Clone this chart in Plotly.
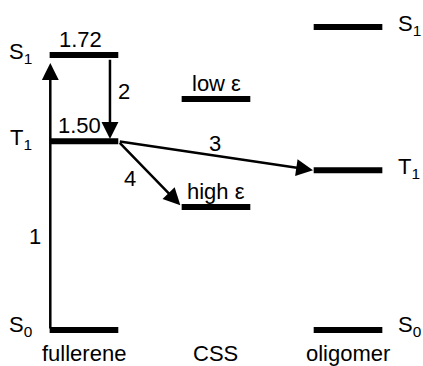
import plotly.graph_objects as go

# ---- data (diagram energy units) ----
categories = ["fullerene", "CSS", "oligomer"]
cat_pos = [0, 1, 2]
fullerene_levels = {"S0": 0.0, "T1": 1.18, "S1": 1.72}
css_levels = {"high ε": 0.77, "low ε": 1.445}
oligomer_levels = {"S0": 0.0, "T1": 1.0, "S1": 1.895}
energy_labels = {"S1": "1.72", "T1": "1.50"}
arrow_labels = ["1", "2", "3", "4"]

HW = 0.26  # half width of level bars
W, H = 423, 366
XR = [-0.636, 2.568]
YR = [-0.225, 2.064]

def px(x):
    return XR[0] + x / W * (XR[1] - XR[0])

def py(y):
    return YR[1] - y / H * (YR[1] - YR[0])

fig = go.Figure()

def add_level(c, e):
    fig.add_trace(go.Scatter(x=[c - HW, c + HW], y=[e, e], mode="lines",
                             line=dict(color="black", width=6), showlegend=False,
                             hoverinfo="skip"))

for e in fullerene_levels.values():
    add_level(cat_pos[0], e)
for e in css_levels.values():
    add_level(cat_pos[1], e)
for e in oligomer_levels.values():
    add_level(cat_pos[2], e)

FONT = dict(family="Liberation Sans, Arial, sans-serif", size=22, color="black")
ann = []

def arrow(x0, y0, x1, y1):
    ann.append(dict(x=x1, y=y1, ax=x0, ay=y0, xref="x", yref="y", axref="x", ayref="y",
                    showarrow=True, arrowhead=2, arrowsize=1.35, arrowwidth=2.5,
                    arrowcolor="black", text=""))

f0 = cat_pos[0]
# 1: S0 -> S1 (fullerene)
arrow(f0 - HW + 0.005, fullerene_levels["S0"], f0 - HW + 0.005, fullerene_levels["S1"] - 0.05)
# 2: S1 -> T1
arrow(f0 + 0.197, fullerene_levels["S1"] - 0.02, f0 + 0.197, fullerene_levels["T1"] + 0.015)
# 3: T1 -> oligomer T1
arrow(f0 + HW, fullerene_levels["T1"], cat_pos[2] - HW - 0.005, oligomer_levels["T1"])
# 4: T1 -> CSS high eps
arrow(f0 + HW, fullerene_levels["T1"], cat_pos[1] - HW - 0.01, css_levels["high ε"] + 0.01)

def text(t, x, y, **kw):
    d = dict(x=x, y=y, xref="x", yref="y", text=t, showarrow=False, font=FONT,
             xanchor="center", yanchor="middle")
    d.update(kw)
    ann.append(d)

# state labels
text("S<sub>1</sub>", px(34), fullerene_levels["S1"], xanchor="right", yshift=2)
text("T<sub>1</sub>", px(34), fullerene_levels["T1"], xanchor="right", yshift=2)
text("S<sub>0</sub>", px(34), fullerene_levels["S0"], xanchor="right", yshift=4)
text("S<sub>1</sub>", px(396), oligomer_levels["S1"], xanchor="left", yshift=2)
text("T<sub>1</sub>", px(396), oligomer_levels["T1"], xanchor="left", yshift=2)
text("S<sub>0</sub>", px(396), oligomer_levels["S0"], xanchor="left", yshift=4)

# energies
text(energy_labels["S1"], px(80), fullerene_levels["S1"], yanchor="bottom", yshift=1)
text(energy_labels["T1"], px(79), fullerene_levels["T1"], yanchor="bottom", yshift=1)
text("low ε", px(216), css_levels["low ε"], yanchor="bottom", yshift=1)
text("high ε", px(216), css_levels["high ε"], yanchor="bottom", yshift=1)

# arrow numbers
text(arrow_labels[0], px(35), py(236))
text(arrow_labels[1], px(124), py(91))
text(arrow_labels[2], px(215), py(143))
text(arrow_labels[3], px(130), py(178))

# categories
for c, name in zip(cat_pos, categories):
    text(name, c, py(353))

fig.update_layout(
    width=W, height=H, margin=dict(l=0, r=0, t=0, b=0),
    paper_bgcolor="white", plot_bgcolor="white",
    xaxis=dict(range=XR, visible=False, fixedrange=True),
    yaxis=dict(range=YR, visible=False, fixedrange=True),
    annotations=ann, showlegend=False,
)
fig.write_html("out.html")
